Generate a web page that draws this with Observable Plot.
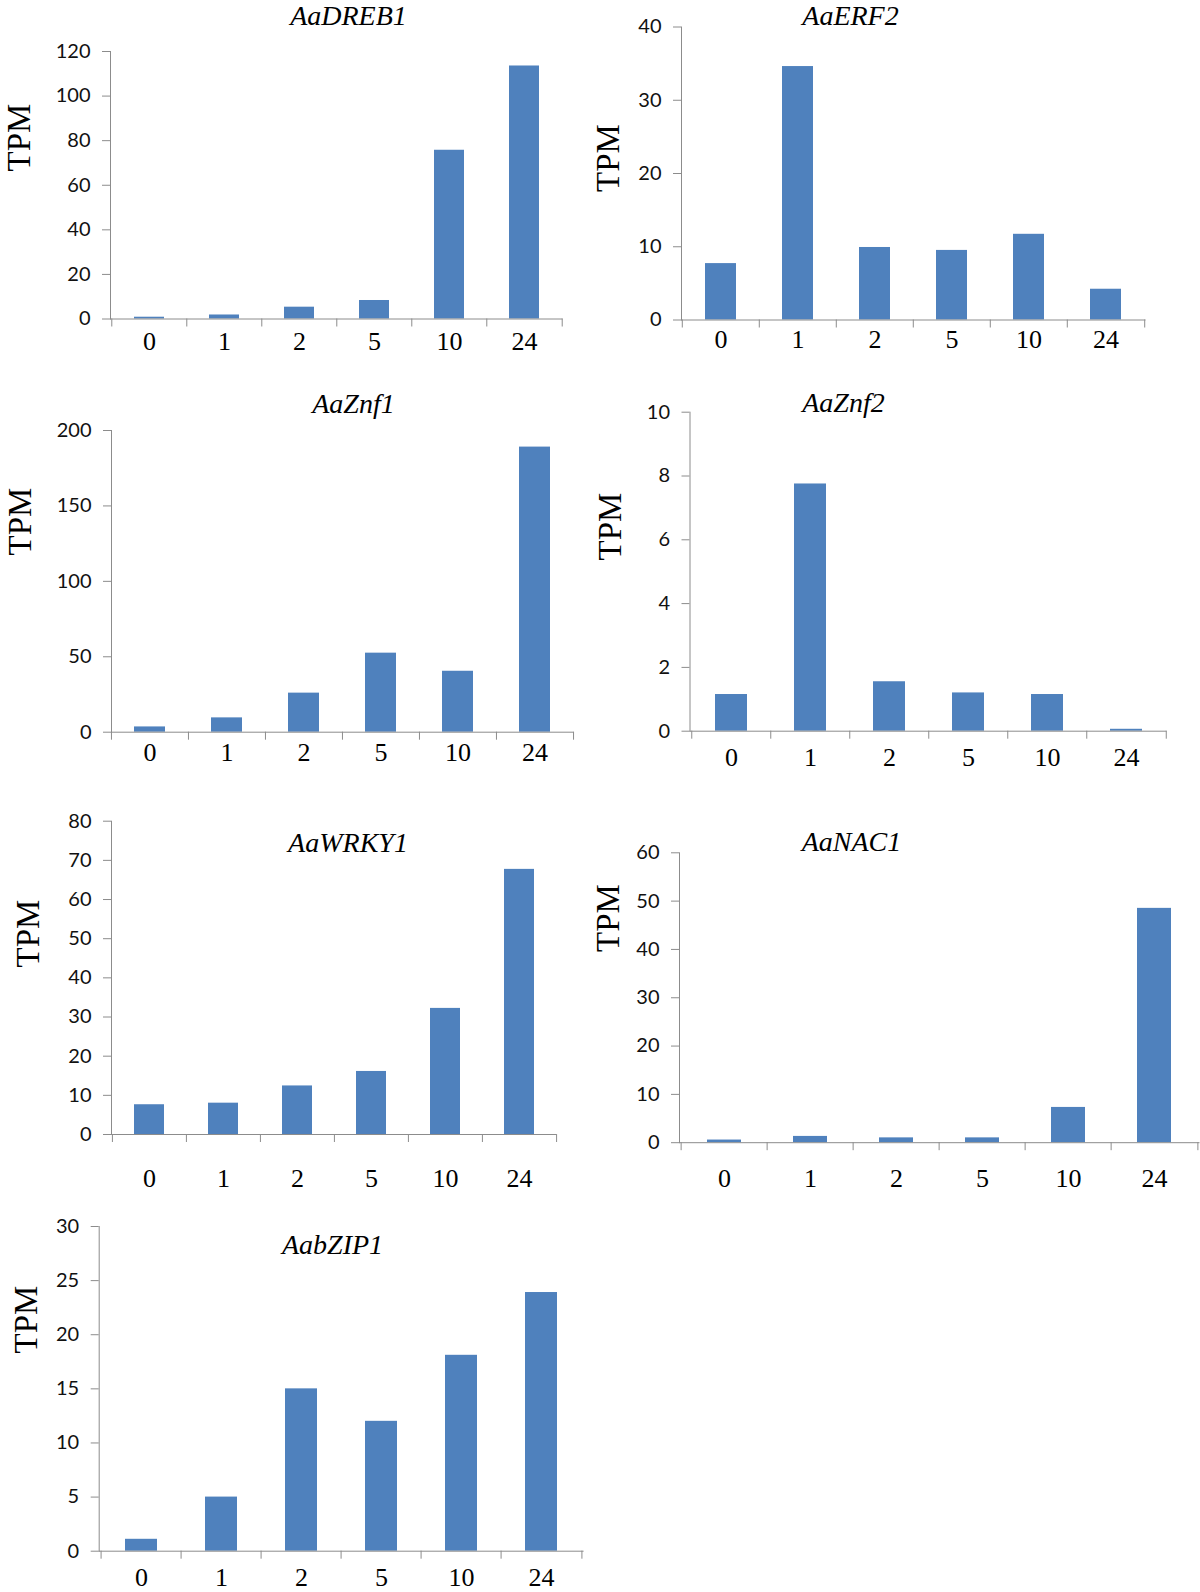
<!DOCTYPE html>
<html>
<head>
<meta charset="utf-8">
<script src="https://cdn.jsdelivr.net/npm/d3@7"></script>
<script src="https://cdn.jsdelivr.net/npm/@observablehq/plot@0.6"></script>
<style>
  html, body { margin: 0; padding: 0; background: white; }
  #fig { position: relative; width: 1200px; height: 1592px; overflow: hidden; background: white; }
  #fig > svg { position: absolute; }
</style>
</head>
<body>
<div id="fig"></div>
<script>
// ---- data ----
const times = ["0", "1", "2", "5", "10", "24"];
const genes = ["AaDREB1", "AaERF2", "AaZnf1", "AaZnf2", "AaWRKY1", "AaNAC1", "AabZIP1"];
const aaDREB1 = [0.8, 1.8, 5.3, 8.3, 75.7, 113.5];
const aaERF2  = [7.7, 34.6, 9.9, 9.5, 11.7, 4.2];
const aaZnf1  = [3.5, 9.5, 25.9, 52.4, 40.4, 189];
const aaZnf2  = [1.15, 7.75, 1.55, 1.2, 1.15, 0.06];
const aaWRKY1 = [7.6, 8.0, 12.4, 16.1, 32.2, 67.7];
const aaNAC1  = [0.55, 1.3, 1.0, 1.0, 7.3, 48.5];
const aabZIP1 = [1.1, 5.0, 15.0, 12.0, 18.1, 23.9];
const yMax  = [120, 40, 200, 10, 80, 60, 30];
const yStep = [20, 10, 50, 2, 10, 10, 5];
const yLabel = "TPM";
const series = [aaDREB1, aaERF2, aaZnf1, aaZnf2, aaWRKY1, aaNAC1, aabZIP1];

// ---- layout (page pixels) ----
const layout = [
  {cx: 0,   cy: 0,    cw: 585, ch: 375, left: 110,   right: 562.5,  top: 51,    bottom: 318.5,  titleX: 348,   titleY: 24,    tpmX: 29,    tpmY: 137,   labelY: 349},
  {cx: 585, cy: 0,    cw: 615, ch: 375, left: 681,   right: 1145.5, top: 26.5,  bottom: 319.5,  titleX: 850,   titleY: 24,    tpmX: 618,   tpmY: 157.5, labelY: 347},
  {cx: 0,   cy: 375,  cw: 585, ch: 415, left: 111,   right: 573.5,  top: 430,   bottom: 731.7,  titleX: 353,   titleY: 412,   tpmX: 30,    tpmY: 521,   labelY: 760},
  {cx: 585, cy: 375,  cw: 615, ch: 415, left: 689.5, right: 1166.5, top: 411.7, bottom: 730.7,  titleX: 843,   titleY: 411,   tpmX: 620,   tpmY: 526,   labelY: 765},
  {cx: 0,   cy: 790,  cw: 585, ch: 410, left: 111,   right: 556,    top: 820.7, bottom: 1134,   titleX: 347.5, titleY: 851.7, tpmX: 38.3,  tpmY: 933,   labelY: 1186},
  {cx: 585, cy: 790,  cw: 615, ch: 410, left: 679,   right: 1199.5, top: 852.3, bottom: 1142.2, titleX: 851,   titleY: 850,   tpmX: 618,   tpmY: 917.5, labelY: 1186.5},
  {cx: 0,   cy: 1200, cw: 585, ch: 392, left: 98.7,  right: 583.6,  top: 1226,  bottom: 1550.7, titleX: 332,   titleY: 1253,  tpmX: 36.4,  tpmY: 1319,  labelY: 1585}
];

const serif = "'Liberation Serif', 'Times New Roman', serif";
const sans = "Lato, 'Open Sans', sans-serif";
const axisGrey = "#8c8c8c";
const barBlue = "#4F81BD";

const fig = document.getElementById("fig");

series.forEach((vals, i) => {
  const L = layout[i];
  const data = times.map((t, j) => ({time: t, tpm: vals[j]}));
  const innerW = L.right - L.left;
  const innerH = L.bottom - L.top;
  const step = innerW / times.length;
  const ticks = d3.range(0, yMax[i] + yStep[i] / 2, yStep[i]);

  const chart = Plot.plot({
    width: L.cw,
    height: L.ch,
    marginLeft: L.left - L.cx,
    marginRight: L.cx + L.cw - L.right,
    marginTop: L.top - L.cy,
    marginBottom: L.cy + L.ch - L.bottom,
    style: {background: "transparent", overflow: "visible", fontFamily: sans, color: "black"},
    x: {domain: times, paddingInner: 0.6, paddingOuter: 0.3, axis: null},
    y: {domain: [0, yMax[i]], axis: null},
    marks: [
      Plot.barY(data, {x: "time", y: "tpm", fill: barBlue}),
      Plot.axisY(ticks, {tickSize: 8, tickPadding: 12, stroke: axisGrey, fill: "#111", fontSize: 20, fontFamily: sans, label: null}),
      Plot.frame({anchor: "left", stroke: axisGrey}),
      Plot.ruleY([0], {stroke: axisGrey}),
      // category boundary ticks (Excel style)
      Plot.ruleX(times, {x: d => d, dx: -step / 2, insetTop: innerH, insetBottom: -8, stroke: axisGrey}),
      Plot.ruleX(times.slice(-1), {x: d => d, dx: step / 2, insetTop: innerH, insetBottom: -8, stroke: axisGrey}),
      // category labels
      Plot.text(times, {x: d => d, frameAnchor: "bottom", dy: L.labelY - L.bottom, lineAnchor: "bottom",
        textAnchor: "middle", fontFamily: serif, fontSize: 26, fill: "black"}),
      // gene title
      Plot.text([genes[i]], {frameAnchor: "top", dx: L.titleX - (L.left + L.right) / 2, dy: L.titleY - L.top,
        lineAnchor: "bottom", textAnchor: "middle", fontFamily: serif, fontStyle: "italic", fontSize: 28, fill: "black"}),
      // y label
      Plot.text([yLabel], {frameAnchor: "left", rotate: -90, dx: L.tpmX - L.left, dy: L.tpmY - (L.top + L.bottom) / 2,
        lineAnchor: "bottom", textAnchor: "middle", fontFamily: serif, fontSize: 33, fill: "black"})
    ]
  });
  chart.style.left = L.cx + "px";
  chart.style.top = L.cy + "px";
  fig.appendChild(chart);
});
</script>
</body>
</html>
